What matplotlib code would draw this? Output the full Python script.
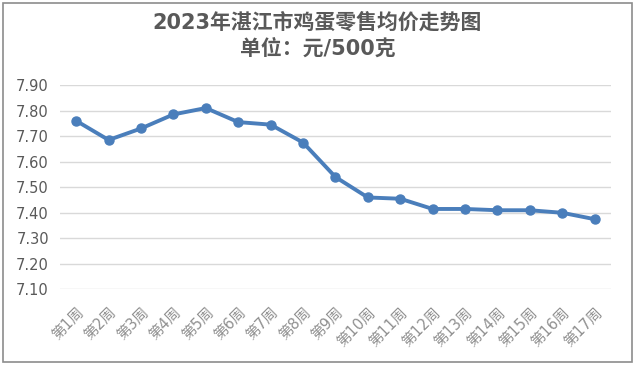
import matplotlib.pyplot as plt
from matplotlib.patches import Rectangle

plt.rcParams['font.family'] = ['DejaVu Sans', 'Noto Sans CJK SC']

weeks = ['第%d周' % i for i in range(1, 18)]
prices = [7.76, 7.685, 7.73, 7.785, 7.81, 7.755, 7.745, 7.675, 7.54,
          7.46, 7.455, 7.415, 7.415, 7.41, 7.41, 7.40, 7.375]
yticks = [7.10, 7.20, 7.30, 7.40, 7.50, 7.60, 7.70, 7.80, 7.90]

fig = plt.figure(figsize=(6.35, 3.65), dpi=100)
ax = fig.add_axes([0.0945, 0.207, 0.8675, 0.560])

x = list(range(len(weeks)))
ax.plot(x, prices, color='#4a7ebb', linewidth=2.8, marker='o', markersize=6.5, zorder=3)

ax.set_xlim(-0.5, len(weeks) - 0.5)
ax.set_ylim(7.10, 7.90)
ax.set_yticks(yticks)
ax.set_yticklabels(['%.2f' % v for v in yticks], fontsize=10.5, color='#595959')
ax.set_xticks(x)
ax.set_xticklabels(weeks, rotation=45, ha='right', rotation_mode='anchor',
                   fontsize=10.5, color='#909090')
ax.tick_params(axis='both', length=0)
ax.tick_params(axis='y', pad=8)
ax.tick_params(axis='x', pad=11)
ax.grid(axis='y', color='#d9d9d9', linewidth=1)
for s in ax.spines.values():
    s.set_visible(False)

fig.text(0.5, 0.937, '2023年湛江市鸡蛋零售均价走势图', ha='center', va='center',
         fontsize=15, fontweight='bold', color='#595959')
fig.text(0.5, 0.867, '单位：元/500克', ha='center', va='center',
         fontsize=15, fontweight='bold', color='#595959')

fig.patches.append(Rectangle((0.005, 0.008), 0.99, 0.984, transform=fig.transFigure,
                             fill=False, edgecolor='#8c8c8c', linewidth=1.2))

fig.savefig('out.png', dpi=100)
